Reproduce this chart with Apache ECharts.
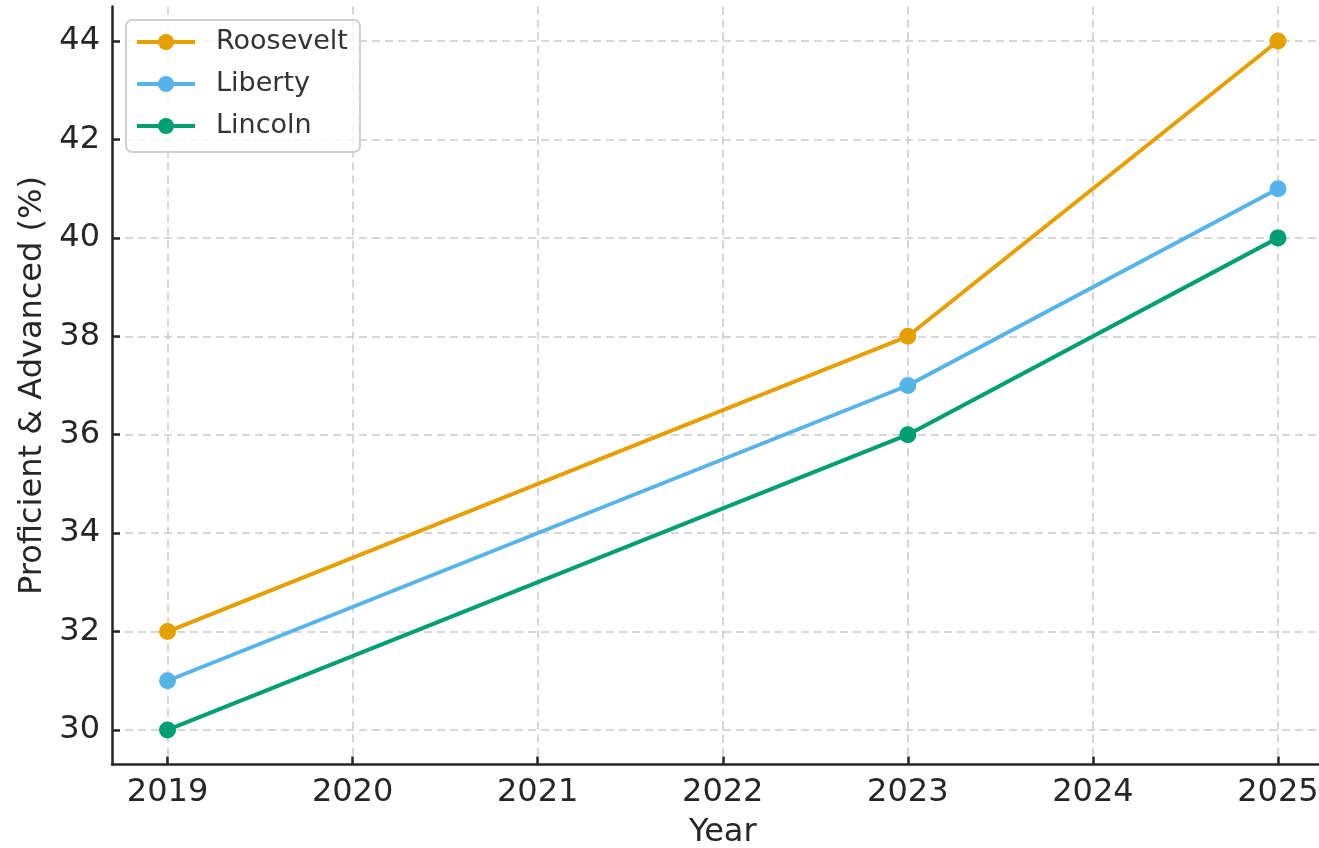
<!DOCTYPE html>
<html>
<head>
<meta charset="utf-8">
<script src="https://cdn.jsdelivr.net/npm/echarts@6/dist/echarts.min.js"></script>
<style>
html,body{margin:0;padding:0;background:#fff;}
#chart{width:1319px;height:848px;}
</style>
</head>
<body>
<div id="chart"></div>
<script>
var years = [2019, 2023, 2025];
var roosevelt = [32, 38, 44];
var liberty = [31, 37, 41];
var lincoln = [30, 36, 40];
var xTicks = [2019, 2020, 2021, 2022, 2023, 2024, 2025];
var yTicks = [30, 32, 34, 36, 38, 40, 42, 44];
var seriesNames = ['Roosevelt', 'Liberty', 'Lincoln'];
var colors = ['#E69F00', '#56B4E9', '#009E73'];

function pairs(vals) {
  return years.map(function (y, i) { return [y, vals[i]]; });
}

var font = 'DejaVu Sans';
var ink = '#262626';

function mkSeries(name, vals, color) {
  return {
    name: name,
    type: 'line',
    data: pairs(vals),
    symbol: 'circle',
    symbolSize: 17,
    showSymbol: true,
    lineStyle: { width: 4, color: color },
    itemStyle: { color: color },
    emphasis: { disabled: true },
    z: 3
  };
}

var chart = echarts.init(document.getElementById('chart'), null, { renderer: 'canvas' });
chart.setOption({
  animation: false,
  backgroundColor: '#ffffff',
  grid: { left: 112, right: -14.5, top: 6.6, bottom: 83.6, containLabel: false, outerBoundsMode: 'none' },
  xAxis: {
    type: 'value',
    min: 2018.7,
    max: 2025.3,
    name: 'Year',
    nameLocation: 'middle',
    nameGap: 52,
    nameTextStyle: { fontFamily: font, fontSize: 32, color: ink },
    axisLine: { show: true, onZero: false, lineStyle: { color: ink, width: 2.5 } },
    axisTick: { show: true, inside: true, length: 8, customValues: xTicks, lineStyle: { color: ink, width: 2.5 } },
    axisLabel: { customValues: xTicks, margin: 12, fontFamily: font, fontSize: 32, color: ink, formatter: function (v) { return String(v); } },
    splitLine: { show: true, lineStyle: { color: '#cccccc', width: 1.6, type: [8, 5] } }
  },
  yAxis: {
    type: 'value',
    min: 29.3,
    max: 44.7,
    name: 'Proficient & Advanced (%)',
    nameLocation: 'middle',
    nameGap: 62,
    nameTextStyle: { fontFamily: font, fontSize: 32, color: ink },
    axisLine: { show: true, onZero: false, lineStyle: { color: ink, width: 2.5 } },
    axisTick: { show: true, inside: true, length: 8, customValues: yTicks, lineStyle: { color: ink, width: 2.5 } },
    axisLabel: { customValues: yTicks, margin: 12, fontFamily: font, fontSize: 32, color: ink },
    splitLine: { show: true, lineStyle: { color: '#cccccc', width: 1.6, type: [8, 5] } }
  },
  legend: {
    data: seriesNames,
    orient: 'vertical',
    left: 126,
    top: 20,
    itemWidth: 58,
    itemHeight: 20,
    itemGap: 12,
    padding: [7, 12, 11, 9],
    backgroundColor: 'rgba(255,255,255,0.8)',
    borderColor: '#d0d0d0',
    borderWidth: 2,
    borderRadius: 6,
    lineStyle: { width: 4 },
    itemStyle: { borderWidth: 0 },
    textStyle: { fontFamily: font, fontSize: 27, color: '#333333', lineHeight: 30, padding: [0, 0, 0, 16] },
    selectedMode: false
  },
  series: [
    mkSeries(seriesNames[0], roosevelt, colors[0]),
    mkSeries(seriesNames[1], liberty, colors[1]),
    mkSeries(seriesNames[2], lincoln, colors[2])
  ]
});
</script>
</body>
</html>
